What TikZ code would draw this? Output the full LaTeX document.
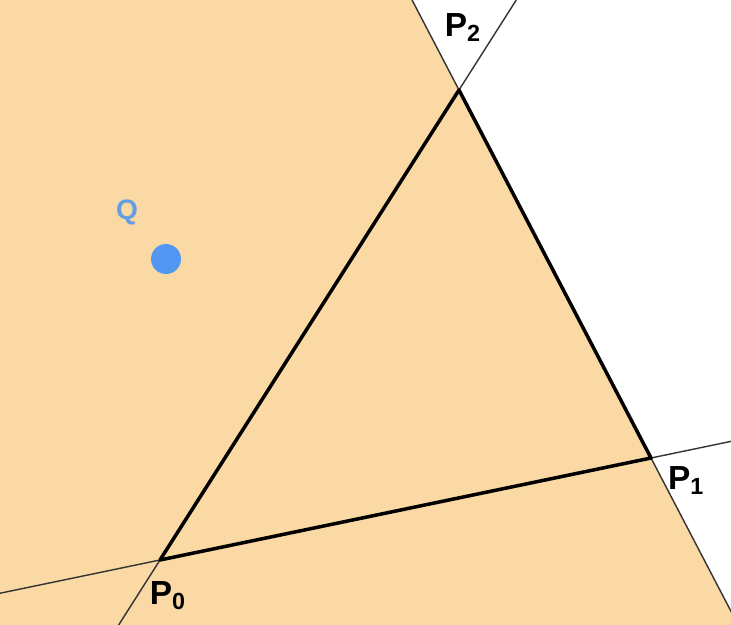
\documentclass[tikz,border=0pt]{standalone}
\usepackage{fontspec}
\setmainfont{Liberation Sans}
\usepackage{tikz}
\usetikzlibrary{positioning, calc}
\definecolor{halfpeach}{RGB}{250, 217, 165}
\definecolor{qblue}{RGB}{82, 152, 242}
\definecolor{qlabel}{RGB}{100, 158, 228}
\tikzset{
  edgeline/.style={line width=2pt, black, line cap=round, line join=round},
  extline/.style={line width=0.8pt, black!80},
  vlabel/.style={font=\fontsize{19}{19}\selectfont\bfseries, inner sep=1pt},
  qdot/.style={circle, fill=qblue, minimum size=0.6cm, inner sep=0pt},
}

\begin{document}
\begin{tikzpicture}[x=0.02cm, y=-0.02cm]
  \useasboundingbox (0,0) rectangle (731,625);
  % vertices and ends of the extended lines
  \coordinate (P0) at (160,560);
  \coordinate (P1) at (651,458);
  \coordinate (P2) at (459,90);
  \coordinate (t12) at ($(P2)!-0.2446!(P1)$);
  \coordinate (b12) at ($(P2)!1.4538!(P1)$);
  \coordinate (t02) at ($(P0)!1.1915!(P2)$);
  \coordinate (b02) at ($(P0)!-0.1383!(P2)$);
  \coordinate (l01) at ($(P0)!-0.3259!(P1)$);
  \coordinate (r01) at ($(P0)!1.1629!(P1)$);
  % half-plane of P1P2 holding P0
  \fill[halfpeach] (0,0) -- (t12) -- (b12) -- (0,625) -- cycle;
  \draw[extline] (t12) -- (b12);
  \draw[extline] (t02) -- (b02);
  \draw[extline] (l01) -- (r01);
  \draw[edgeline] (P0) -- (P1) -- (P2) -- cycle;
  \node[vlabel, above=0.92cm of P2, xshift=0.08cm] (lab2) {P\textsubscript{2}};
  \node[vlabel, below right=0.12cm and 0.3cm of P1] (lab1) {P\textsubscript{1}};
  \node[vlabel, below=0.38cm of P0, xshift=0.16cm] (lab0) {P\textsubscript{0}};
  \node[qdot] (Q) at (166,259) {};
  \node[vlabel, qlabel, font=\fontsize{16}{16}\selectfont\bfseries, above left=0.42cm and 0.3cm of Q] (labQ) {Q};
\end{tikzpicture}
\end{document}
